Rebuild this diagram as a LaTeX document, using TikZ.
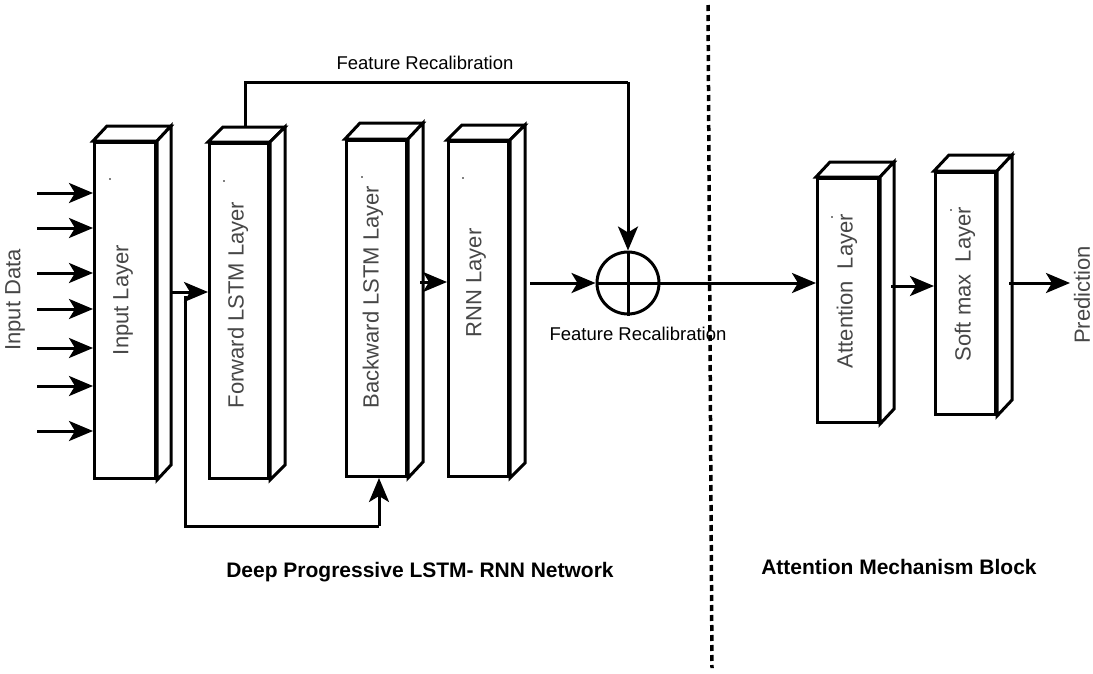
\documentclass[tikz,border=0pt]{standalone}
\usepackage{fontspec}
\setmainfont{Liberation Sans}
\usetikzlibrary{arrows.meta,calc}

\tikzset{
  face/.style={draw=black, line width=3pt, fill=white, line join=miter},
  frontface/.style={face, inner sep=0pt, anchor=north west},
  arr/.style={line width=3pt, -{Stealth[length=24pt,width=20pt,inset=6pt]}},
  wire/.style={line width=3pt},
  boxtext/.style={rotate=90, text=black!72, font=\fontsize{22}{26}\selectfont},
  sidetext/.style={rotate=90, text=black!72, font=\fontsize{22}{26}\selectfont},
  plaintext/.style={font=\fontsize{18.5}{22}\selectfont},
  heading/.style={font=\bfseries\fontsize{21}{25}\selectfont},
  speck/.style={fill=black}
}

% 3-D layer block: name, left, top, width, height, depth dx, depth dy
\newcommand{\layerblock}[7]{%
  \node[frontface, minimum width=#4pt, minimum height=#5pt] (#1) at (#2,#3) {};
  \draw[face] (#1.north west) -- ++(#6,-#7) -- ($(#1.north east)+(#6,-#7)$) -- (#1.north east) -- cycle;
  \draw[face] (#1.north east) -- ++(#6,-#7) -- ($(#1.south east)+(#6,-#7)$) -- (#1.south east) -- cycle;
}

\begin{document}
\begin{tikzpicture}[x=1pt,y=-1pt]
\useasboundingbox (0,0) rectangle (1093,673);

% ---- layer blocks ----
\layerblock{inp}{93}{141}{61}{336}{14}{15}
\layerblock{fwd}{208}{142}{59}{335}{15}{15}
\layerblock{bwd}{345}{139}{60}{336}{15}{16}
\layerblock{rnn}{447}{140}{60}{335}{15}{15}
\layerblock{att}{816}{177}{61}{244}{14}{15}
\layerblock{smx}{934}{171}{60}{242}{15}{16}

% ---- block labels ----
\node[boxtext] (tinp) at (123,300) {Input Layer};
\node[boxtext] (tfwd) at (238,305) {Forward LSTM Layer};
\node[boxtext] (tbwd) at (373,297) {Backward LSTM Layer};
\node[boxtext] (trnn) at (476,283) {RNN Layer};
\node[boxtext] (tatt) at (847,291) {Attention\ \ Layer};
\node[boxtext] (tsmx) at (965,284) {Soft max\ \ Layer};

% small specks near the top of each block
\foreach \p in {(110,179),(224,181),(362,177),(463,178),(832,217),(951,210)}
  \fill[speck] \p circle (0.9);

% ---- input arrows ----
\node[sidetext] (indata) at (15,300) {Input Data};
\foreach \y [count=\i] in {193,228,273,309,348,386,431} {
  \coordinate (in\i) at (37,\y);
  \draw[arr] (in\i) -- (in\i -| inp.west);
}

% input layer -> forward LSTM
\coordinate (iout) at (172,292);
\draw[arr] (iout) -- (iout -| fwd.west);

% skip path to the backward LSTM
\coordinate (skip) at (185,296);
\coordinate (skipend) at (379,526);
\draw[wire] (skip) |- (skipend);
\draw[arr] (skipend) -- (skipend |- bwd.south);

% backward LSTM -> RNN
\coordinate (bout) at (420,282);
\draw[arr] (bout) -- (bout -| rnn.west);

% ---- summation node ----
\node[circle, draw, line width=3pt, minimum size=62pt, inner sep=0pt] (sum) at (628,283) {};
\draw[wire] (sum.north) -- (sum.south);
\draw[wire] (sum.west) -- (sum.east);

% feature recalibration path
\coordinate (ftop) at (245,127);
\coordinate (fcorner) at (628,82);
\draw[wire] (ftop) |- (fcorner);
\draw[arr] (fcorner) -- (sum.north);
\node[plaintext] (frtop) at (425,63) {Feature Recalibration};
\node[plaintext] (frbot) at (638,334) {Feature Recalibration};

% RNN -> sum
\coordinate (rout) at (530,283);
\draw[arr] (rout) -- (sum.west);

% sum -> attention
\draw[arr] (sum.east) -- (sum.east -| att.west);

% attention -> softmax
\coordinate (aout) at (891,286);
\draw[arr] (aout) -- (aout -| smx.west);

% softmax -> prediction
\coordinate (sout) at (1009,283);
\coordinate (pred) at (1070,283);
\draw[arr] (sout) -- (pred);
\node[sidetext] (predtext) at (1082,295) {Prediction};

% ---- separator ----
\coordinate (sepa) at (708,5);
\coordinate (sepb) at (712,668);
\draw[line width=3.5pt, dash pattern=on 6pt off 4pt] (sepa) -- (sepb);

% ---- section headings ----
\node[heading] (h1) at (420,572) {Deep Progressive LSTM- RNN Network};
\node[heading] (h2) at (899,567) {Attention Mechanism Block};
\end{tikzpicture}
\end{document}
